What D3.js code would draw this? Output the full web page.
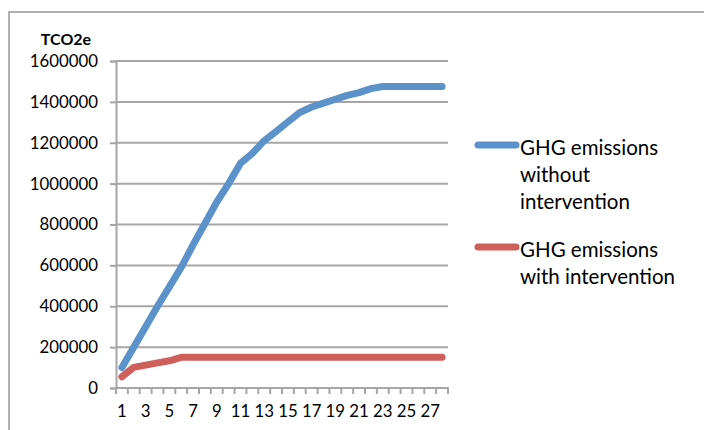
<!DOCTYPE html>
<html>
<head>
<meta charset="utf-8">
<script src="https://cdn.jsdelivr.net/npm/d3@7"></script>
<style>
  html, body { margin: 0; padding: 0; background: #fff; }
  svg { display: block; font-family: Lato, "Open Sans", sans-serif; }
</style>
</head>
<body>
<svg id="chart" width="704" height="430"></svg>
<script>
// Years of the projection period
const periods = d3.range(1, 29);

// Annual GHG emissions (tCO2e)
const withoutIntervention = [
  100000, 200000, 300000, 400000, 495000, 590000, 700000, 805000, 910000, 1000000,
  1100000, 1148000, 1210000, 1255000, 1302000, 1348000, 1375000, 1394000, 1413000, 1432000,
  1445000, 1465000, 1475000, 1475000, 1475000, 1475000, 1475000, 1475000
];
const withIntervention = [
  55000, 101000, 112000, 123000, 133000, 150000, 150000, 150000, 150000, 150000,
  150000, 150000, 150000, 150000, 150000, 150000, 150000, 150000, 150000, 150000,
  150000, 150000, 150000, 150000, 150000, 150000, 150000, 150000
];

const yTicks = [0, 200000, 400000, 600000, 800000, 1000000, 1200000, 1400000, 1600000];
const xTickLabels = periods.filter(d => d % 2 === 1);

const seriesNames = [
  ["GHG emissions", "without", "intervention"],
  ["GHG emissions", "with intervention"]
];
const seriesColors = ["#5b92c9", "#ce5f5a"];
const unitLabel = "TCO2e";

const svg = d3.select("#chart");

// Outer frame (left and top edges)
svg.append("path")
  .attr("d", "M9,430 V12 H704")
  .attr("fill", "none")
  .attr("stroke", "#b0b0b0")
  .attr("stroke-width", 2);

const plot = { left: 116, right: 448, top: 61, bottom: 388 };

const x = d3.scaleBand().domain(periods).range([plot.left, plot.right]);
const y = d3.scaleLinear().domain([0, 1600000]).range([plot.bottom, plot.top]);

// Horizontal gridlines
svg.append("g")
  .selectAll("line")
  .data(yTicks.filter(d => d > 0))
  .join("line")
  .attr("x1", plot.left).attr("x2", plot.right)
  .attr("y1", d => y(d)).attr("y2", d => y(d))
  .attr("stroke", "#a6a6a6").attr("stroke-width", 2);

// Y axis
const yAxis = svg.append("g")
  .attr("transform", `translate(${plot.left},0)`)
  .call(d3.axisLeft(y).tickValues(yTicks).tickSize(6).tickPadding(12).tickFormat(d3.format("d")));
yAxis.select(".domain").attr("stroke", "#a6a6a6").attr("stroke-width", 2);
yAxis.selectAll(".tick line").attr("stroke", "#a6a6a6").attr("stroke-width", 2);
yAxis.selectAll(".tick text")
  .attr("font-size", 16.8).attr("fill", "#000").attr("font-family", "Lato, sans-serif");

// X axis: ticks between categories, labels on every other period
const xAxisG = svg.append("g").attr("transform", `translate(0,${plot.bottom})`);
xAxisG.append("line")
  .attr("x1", plot.left - 1).attr("x2", plot.right + 1)
  .attr("stroke", "#a6a6a6").attr("stroke-width", 2);
xAxisG.selectAll("line.tick")
  .data(periods.concat([periods.length + 1]))
  .join("line")
  .attr("class", "tick")
  .attr("x1", d => d <= periods.length ? x(d) : x(periods.length) + x.bandwidth())
  .attr("x2", d => d <= periods.length ? x(d) : x(periods.length) + x.bandwidth())
  .attr("y1", 0).attr("y2", 6)
  .attr("stroke", "#a6a6a6").attr("stroke-width", 2);
xAxisG.selectAll("text")
  .data(xTickLabels)
  .join("text")
  .attr("x", d => x(d) + x.bandwidth() / 2)
  .attr("y", 29)
  .attr("text-anchor", "middle")
  .attr("font-size", 16.8)
  .text(d => d);

// Unit label
svg.append("text")
  .attr("x", 66).attr("y", 45)
  .attr("text-anchor", "middle")
  .attr("font-size", 16).attr("font-weight", "bold")
  .text(unitLabel);

// Series lines
const line = d3.line()
  .x((d, i) => x(periods[i]) + x.bandwidth() / 2)
  .y(d => y(d));

[withoutIntervention, withIntervention].forEach((vals, k) => {
  svg.append("path")
    .datum(vals)
    .attr("d", line)
    .attr("fill", "none")
    .attr("stroke", seriesColors[k])
    .attr("stroke-width", 7)
    .attr("stroke-linecap", "round")
    .attr("stroke-linejoin", "round");
});

// Legend
const legendY = [145, 247];
seriesNames.forEach((lines, k) => {
  const g = svg.append("g");
  g.append("line")
    .attr("x1", 478).attr("x2", 516)
    .attr("y1", legendY[k]).attr("y2", legendY[k])
    .attr("stroke", seriesColors[k]).attr("stroke-width", 7)
    .attr("stroke-linecap", "round");
  g.append("text")
    .attr("x", 520).attr("y", legendY[k] + 10)
    .attr("font-size", 20.5)
    .selectAll("tspan")
    .data(lines)
    .join("tspan")
    .attr("x", 520)
    .attr("dy", (d, i) => i === 0 ? 0 : 27)
    .text(d => d);
});
</script>
</body>
</html>
